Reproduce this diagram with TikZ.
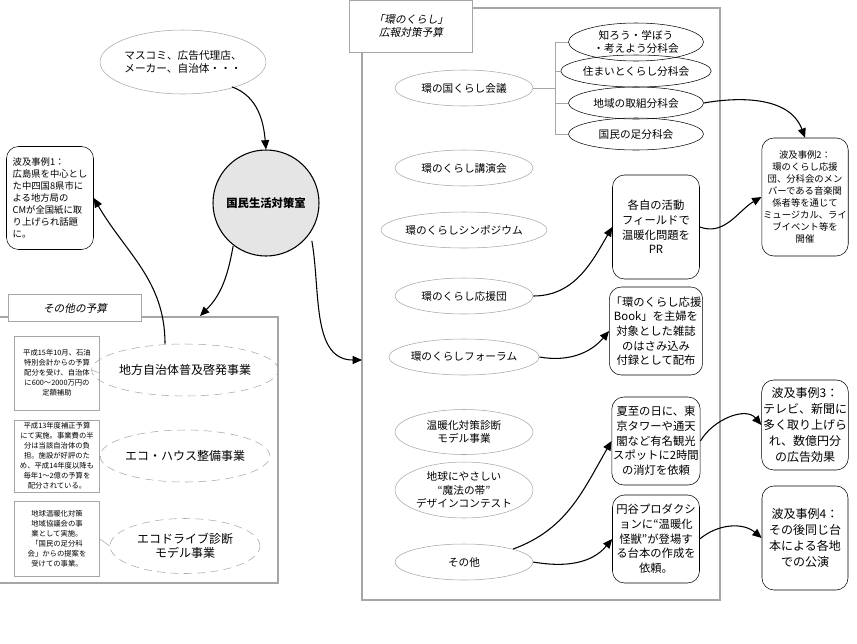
\documentclass[tikz,border=0pt]{standalone}
\usepackage{fontspec}
\setmainfont{Noto Sans CJK JP}
\newfontfamily\slfont[FakeSlant=0.2]{Noto Sans CJK JP}
\usetikzlibrary{shapes.geometric,arrows.meta}
\begin{document}
\begin{tikzpicture}[x=0.75pt,y=-0.75pt,
  font=\fontsize{8}{10}\selectfont,
  ell/.style={ellipse,draw=gray!70,inner sep=0pt,align=center},
  subell/.style={ellipse,draw=black,inner sep=0pt,align=center,minimum width=135*0.75pt,minimum height=32*0.75pt},
  dell/.style={ellipse,draw=gray!70,dash pattern=on 6pt off 4pt,inner sep=0pt,align=center,font=\fontsize{9}{11}\selectfont,minimum width=150*0.75pt},
  rbox/.style={draw,rounded corners=9pt,align=center,inner sep=1pt,font=\fontsize{8.5}{11}\selectfont},
  sbox/.style={draw=gray!70,align=center,inner sep=1pt,font=\fontsize{5.5}{7.5}\selectfont},
  arr/.style={-{Triangle[length=7pt,width=6pt]},thick},
  gl/.style={draw=gray!70}]
\useasboundingbox (0,0) rectangle (857,643);
% frames
\draw[gray!70,thick] (362,8) rectangle (720,600);
\node[draw=gray!70,fill=white,minimum width=123*0.75pt,minimum height=52*0.75pt,align=center,font=\slfont\fontsize{8}{10}\selectfont] (t1) at (411,26) {「環のくらし」\\広報対策予算};
\draw[gray!70,thick] (0,317) -- (278,317) -- (278,583) -- (0,583);
\node[draw=gray!70,fill=white,minimum width=133*0.75pt,minimum height=27*0.75pt,font=\slfont\fontsize{8}{10}\selectfont] (t2) at (75,308) {その他の予算};
% top left
\node[ell,minimum width=148*0.75pt,minimum height=64*0.75pt] (mas) at (183,62) {マスコミ、広告代理店、\\メーカー、自治体・・・};
\node[circle,draw,thick,fill=gray!20,minimum size=106*0.75pt,font=\bfseries\fontsize{8.5}{10}\selectfont] (kok) at (266,203) {国民生活対策室};
\node[rbox,font=\fontsize{7}{9}\selectfont,align=left,minimum width=87*0.75pt,minimum height=103*0.75pt] (ha1) at (50,198) {波及事例1：\\広島県を中心とし\\た中四国8県市に\\よる地方局の\\CMが全国紙に取\\り上げられ話題\\に。};
% left budget
\node[dell,minimum height=52*0.75pt] (l1) at (185,370) {地方自治体普及啓発事業};
\node[dell,minimum height=52*0.75pt] (l2) at (185,456) {エコ・ハウス整備事業};
\node[dell,minimum height=55*0.75pt] (l3) at (185,546) {エコドライブ診断\\モデル事業};
\node[sbox,minimum width=85*0.75pt,minimum height=74*0.75pt] (s1) at (57,373) {平成15年10月、石油\\特別会計からの予算\\配分を受け、自治体\\に600〜2000万円の\\定額補助};
\node[sbox,minimum width=85*0.75pt,minimum height=72*0.75pt] (s2) at (57,456) {平成13年度補正予算\\にて実施。事業費の半\\分は当該自治体の負\\担。施設が好評のた\\め、平成14年度以降も\\毎年1〜2億の予算を\\配分されている。};
\node[sbox,minimum width=85*0.75pt,minimum height=75*0.75pt] (s3) at (57,539) {地球温暖化対策\\地域協議会の事\\業として実施。\\「国民の足分科\\会」からの提案を\\受けての事業。};
\draw[gl] (s1.east) -- (l1.west);
\draw[gl] (s2.east) -- (l2.west);
\draw[gl] (s3.east) -- (l3.west);
% middle ellipses
\tikzset{mell/.style={ell,minimum width=138*0.75pt,minimum height=36*0.75pt}}
\node[mell] (m1) at (464,88) {環の国くらし会議};
\node[mell] (m2) at (464,168) {環のくらし講演会};
\node[mell] (m3) at (464,230) {環のくらしシンポジウム};
\node[mell] (m4) at (464,296) {環のくらし応援団};
\node[mell] (m5) at (464,357) {環のくらしフォーラム};
\node[mell,minimum height=45*0.75pt] (m6) at (464,432) {温暖化対策診断\\モデル事業};
\node[mell,minimum height=56*0.75pt] (m7) at (464,490) {地球にやさしい\\“魔法の帯”\\デザインコンテスト};
\node[mell] (m8) at (464,562) {その他};
% sub ellipses
\node[subell,minimum height=38*0.75pt] (b1) at (636,42) {知ろう・学ぼう\\・考えよう分科会};
\node[subell] (b2) at (636,71) {住まいとくらし分科会};
\node[subell] (b3) at (636,103) {地域の取組分科会};
\node[subell] (b4) at (636,134) {国民の足分科会};
\coordinate (br) at (555,88);
\draw[gl] (m1.east) -- (br);
\draw[gl] (555,42) -- (555,134);
\draw[gl] (555,42) -- (b1.west);
\draw[gl] (555,71) -- (b2.west);
\draw[gl] (555,103) -- (b3.west);
\draw[gl] (555,134) -- (b4.west);
% rounded boxes middle
\tikzset{mbox/.style={rbox,minimum width=87*0.75pt,minimum height=#1*0.75pt}}
\node[mbox=104] (r1) at (656,227) {各自の活動\\フィールドで\\温暖化問題を\\PR};
\node[mbox=88] (r2) at (656,331) {「環のくらし応援\\Book」を主婦を\\対象とした雑誌\\のはさみ込み\\付録として配布};
\node[mbox=88] (r3) at (656,441) {夏至の日に、東\\京タワーや通天\\閣など有名観光\\スポットに2時間\\の消灯を依頼};
\node[mbox=88] (r4) at (656,539) {円谷プロダクシ\\ョンに“温暖化\\怪獣”が登場す\\る台本の作成を\\依頼。};
% right
\node[rbox,font=\fontsize{7}{9}\selectfont,minimum width=86*0.75pt,minimum height=118*0.75pt] (h2) at (805,197) {波及事例2：\\環のくらし応援\\団、分科会のメン\\バーである音楽関\\係者等を通じて\\ミュージカル、ライ\\ブイベント等を\\開催};
\node[rbox,font=\fontsize{9}{12}\selectfont,minimum width=86*0.75pt,minimum height=90*0.75pt] (h3) at (805,425) {波及事例3：\\テレビ、新聞に\\多く取り上げら\\れ、数億円分\\の広告効果};
\node[rbox,font=\fontsize{9}{12}\selectfont,minimum width=86*0.75pt,minimum height=104*0.75pt] (h4) at (805,538) {波及事例4：\\その後同じ台\\本による各地\\での公演};
% arrows
\draw[arr] (mas.south east) ++(-10,2) to[out=-20,in=95] (kok.north);
\coordinate (fr1) at (362,360);
\draw[arr] (kok.south east) ++(8,0) to[out=-80,in=180] (fr1);
\coordinate (fr2) at (200,316);
\draw[arr] (kok.south west) ++(5,5) to[out=-100,in=45] (fr2);
\draw[arr] (l1.north) ++(-20,0) to[out=90,in=-60] (ha1.east);
\draw[arr] (m4.east) to[out=0,in=-120] (r1.west);
\draw[arr] (m5.east) to[out=-10,in=-130] (r2.west);
\draw[arr] (m8.north east) to[out=20,in=-120] (r3.west);
\draw[arr] (m8.east) to[out=-10,in=-130] (r4.west);
\draw[arr] (b3.east) to[out=10,in=110] (h2.north);
\draw[arr] (r1.east) to[out=-20,in=-150] (h2.west);
\draw[arr] (r3.east) to[out=60,in=130] (h3.west);
\draw[arr] (r4.east) to[out=40,in=140] (h4.west);
\end{tikzpicture}
\end{document}
